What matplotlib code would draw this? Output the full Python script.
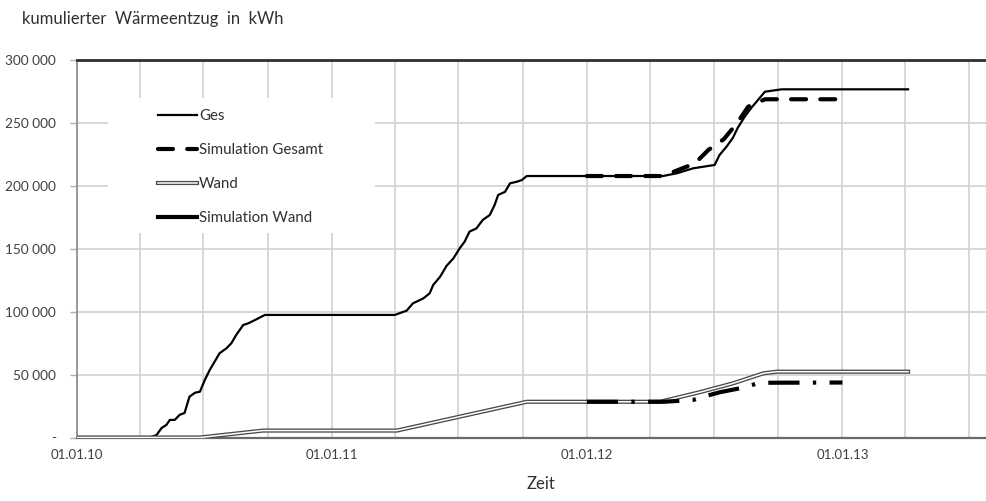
import matplotlib
matplotlib.use("Agg")
import matplotlib.pyplot as plt
import matplotlib.dates as mdates
from matplotlib.lines import Line2D
from matplotlib.legend_handler import HandlerTuple
from matplotlib.patches import Rectangle

# ---- data: cumulative heat extraction (kWh) ----
ges_dates = ["2010-01-01", "2010-04-15", "2010-04-25", "2010-05-02", "2010-05-09", "2010-05-14",
             "2010-05-21", "2010-05-28", "2010-06-04", "2010-06-11", "2010-06-19", "2010-06-26",
             "2010-07-03", "2010-07-10", "2010-07-17", "2010-07-24", "2010-08-03", "2010-08-10",
             "2010-08-17", "2010-08-27", "2010-09-03", "2010-09-13", "2010-09-27", "2011-04-01",
             "2011-04-18", "2011-04-27", "2011-05-12", "2011-05-21", "2011-05-26", "2011-06-05",
             "2011-06-14", "2011-06-24", "2011-07-03", "2011-07-10", "2011-07-17", "2011-07-27",
             "2011-08-05", "2011-08-15", "2011-08-22", "2011-08-27", "2011-09-06", "2011-09-13",
             "2011-09-23", "2011-09-30", "2011-10-07", "2012-04-19", "2012-05-09", "2012-06-01",
             "2012-07-02", "2012-07-09", "2012-07-19", "2012-07-28", "2012-08-04", "2012-08-14",
             "2012-08-23", "2012-09-02", "2012-09-12", "2012-10-06", "2013-04-05"]
ges_values = [0, 0, 2000, 7500, 10000, 14000,
              14000, 18000, 19500, 32400, 35600, 36400,
              45700, 53600, 60200, 66900, 70900, 74900,
              81500, 89400, 90700, 93400, 97400, 97400,
              100800, 106600, 110600, 114600, 121200, 127800,
              136300, 142400, 150400, 155600, 163600, 166200,
              172900, 176800, 184800, 192700, 195300, 202000,
              203300, 204600, 207800, 207800, 210000, 213900,
              216600, 224500, 231100, 238000, 246000, 254900,
              261600, 268200, 274800, 276700, 276700]

sim_ges_dates = ["2012-01-01", "2012-04-15", "2012-04-29", "2012-06-04", "2012-06-23",
                 "2012-07-15", "2012-08-03", "2012-08-19", "2012-09-12", "2013-01-01"]
sim_ges_values = [207800, 207800, 210000, 217900, 228500,
                  237000, 249700, 262900, 268800, 268800]

wand_dates = ["2010-01-01", "2010-06-26", "2010-09-24", "2011-04-04", "2011-10-07",
              "2012-04-15", "2012-06-10", "2012-07-28", "2012-09-10", "2012-09-29", "2013-04-05"]
wand_values = [0, 0, 5500, 5500, 28400,
               28400, 35900, 43000, 51000, 52300, 52300]

sim_wand_dates = ["2012-01-01", "2012-04-20", "2012-06-01", "2012-06-16", "2012-07-09",
                  "2012-08-07", "2012-09-05", "2013-01-01"]
sim_wand_values = [28400, 28400, 29800, 32400, 35900,
                   39100, 43500, 43700]

series_labels = ["Ges", "Simulation Gesamt", "Wand", "Simulation Wand"]
y_ticks = [0, 50000, 100000, 150000, 200000, 250000, 300000]
y_tick_labels = ["-", "50 000", "100 000", "150 000", "200 000", "250 000", "300 000"]
x_tick_dates = ["2010-01-01", "2011-01-01", "2012-01-01", "2013-01-01"]
x_tick_labels = ["01.01.10", "01.01.11", "01.01.12", "01.01.13"]


def to_num(ds):
    return mdates.datestr2num(ds)


plt.rcParams["font.family"] = ["Lato", "DejaVu Sans"]

fig = plt.figure(figsize=(9.87, 5.01), dpi=100)
ax = fig.add_axes([77 / 987, 1 - 437.5 / 501, 910 / 987, 377.5 / 501])

grid_c = "#d4d4d4"
ax.set_xlim(to_num("2010-01-01"), to_num("2013-07-27"))
ax.set_ylim(0, 300000)

# quarterly vertical gridlines, yearly labels
ax.xaxis.remove_overlapping_locs = False
ax.xaxis.set_major_locator(mdates.MonthLocator(bymonth=(1, 4, 7, 10)))
ax.xaxis.set_major_formatter(plt.NullFormatter())
ax.xaxis.set_minor_locator(plt.FixedLocator(to_num(x_tick_dates)))
ax.xaxis.set_minor_formatter(plt.FixedFormatter(x_tick_labels))
ax.tick_params(axis="x", which="both", length=0, pad=8.5, labelsize=9.5, labelcolor="#404040")

ax.set_yticks(y_ticks)
ax.set_yticklabels(y_tick_labels)
ax.tick_params(axis="y", length=5, width=1, color="#b0b0b0", pad=10, labelsize=9.8,
               labelcolor="#404040")

ax.grid(True, which="major", color=grid_c, linewidth=1.3)
ax.set_axisbelow(True)

ax.spines["right"].set_visible(False)
ax.spines["left"].set_color("#8a8a8a")
ax.spines["left"].set_linewidth(1.2)
ax.spines["bottom"].set_color("#6a6a6a")
ax.spines["bottom"].set_linewidth(1.6)
ax.spines["top"].set_color("#303030")
ax.spines["top"].set_linewidth(2.0)

# white panel behind the legend
ax.add_patch(Rectangle((0.034, 0.5417), 0.2935, 0.357, transform=ax.transAxes,
                       facecolor="white", edgecolor="none", zorder=1))

x_ges = to_num(ges_dates)
x_sg = to_num(sim_ges_dates)
x_w = to_num(wand_dates)
x_sw = to_num(sim_wand_dates)

ax.plot(x_ges, ges_values, color="black", lw=1.6, zorder=3, solid_joinstyle="round")
l_sg, = ax.plot(x_sg, sim_ges_values, color="black", lw=3.0, zorder=4,
                dash_capstyle="round")
l_sg.set_dashes((3.6, 3.4))
ax.plot(x_w, wand_values, color="#4a4a4a", lw=3.0, zorder=5, solid_joinstyle="round")
ax.plot(x_w, wand_values, color="white", lw=1.1, zorder=5.1, solid_joinstyle="round")
l_sw, = ax.plot(x_sw, sim_wand_values, color="black", lw=3.0, zorder=6)
l_sw.set_dashes((7.5, 3.2, 0.8, 3.2))

# legend
h_ges = Line2D([], [], color="black", lw=1.6)
h_sg = Line2D([], [], color="black", lw=3.0, dash_capstyle="round")
h_sg.set_dashes((3.6, 3.4))
h_w = (Line2D([], [], color="#4a4a4a", lw=3.0), Line2D([], [], color="white", lw=1.1))
h_sw = Line2D([], [], color="black", lw=3.0)
leg = ax.legend([h_ges, h_sg, h_w, h_sw], series_labels,
                handler_map={tuple: HandlerTuple(ndivide=1, pad=0)},
                loc="upper left", bbox_to_anchor=(158 / 987, 1 - 109 / 501),
                bbox_transform=fig.transFigure, frameon=False, borderpad=0,
                borderaxespad=0, handlelength=2.6, handletextpad=0.12,
                labelspacing=1.34, fontsize=10.8)
for t in leg.get_texts():
    t.set_color("#303030")

fig.text(22 / 987, 1 - 19 / 501, "kumulierter  Wärmeentzug  in  kWh", fontsize=12,
         color="#303030", va="center", ha="left")
fig.text(541 / 987, 1 - 484 / 501, "Zeit", fontsize=12, color="#303030",
         va="center", ha="center")

fig.savefig("out.png", dpi=100)
